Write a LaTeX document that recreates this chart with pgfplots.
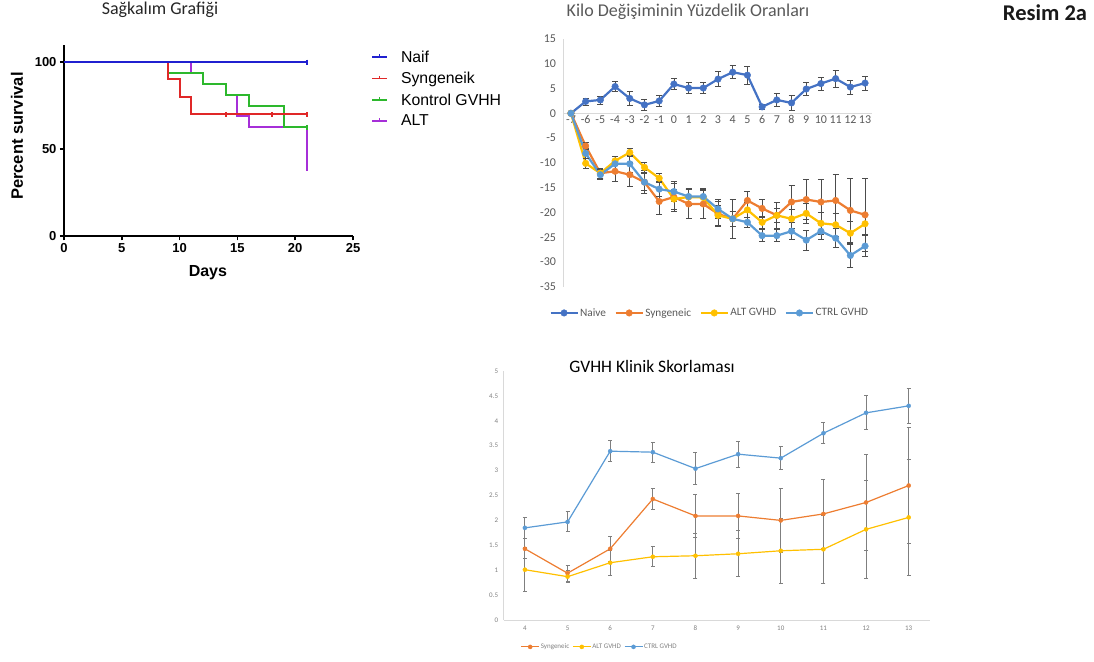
\documentclass[border=0pt]{standalone}
\usepackage{fontspec}
\setmainfont{Carlito}
\newfontfamily\arialfont{Liberation Sans}
\usepackage{pgfplots}
\pgfplotsset{compat=1.18}
\usepackage{pgfplotstable}

\definecolor{gpblue}{HTML}{2020D0}
\definecolor{gpred}{HTML}{E02828}
\definecolor{gpgreen}{HTML}{2DB82D}
\definecolor{gppurple}{HTML}{A62FD8}
\definecolor{xblue}{HTML}{4472C4}
\definecolor{xorange}{HTML}{ED7D31}
\definecolor{xgold}{HTML}{FFC000}
\definecolor{xlblue}{HTML}{5B9BD5}
\definecolor{txtgray}{HTML}{595959}
\definecolor{axgray}{HTML}{D9D9D9}
\definecolor{errgray}{HTML}{7F7F7F}

% Weight change (%) : x  y  e
\pgfplotstableread{
x y e
-7 0 0
-6 2.4 0.7
-5 2.7 0.8
-4 5.4 1.0
-3 3.0 1.4
-2 1.7 1.1
-1 2.5 1.1
0 5.9 1.1
1 5.1 1.1
2 5.1 1.1
3 6.9 1.5
4 8.3 1.3
5 7.7 1.8
6 1.3 0.6
7 2.7 1.3
8 2.1 1.6
9 4.9 1.3
10 6.0 1.3
11 7.0 1.7
12 5.3 1.4
13 6.1 1.4
}\wNaive
\pgfplotstableread{
x y e
-7 0 0
-6 -6.6 0.7
-5 -12.1 1.0
-4 -11.7 2.0
-3 -12.4 2.4
-2 -13.9 2.3
-1 -17.8 2.5
0 -16.9 2.8
1 -18.3 3.0
2 -18.3 3.0
3 -20.3 2.6
4 -21.3 4.0
5 -17.6 1.9
6 -19.2 1.9
7 -20.6 2.6
8 -17.9 3.4
9 -17.4 4.0
10 -17.9 4.5
11 -17.6 5.2
12 -19.6 6.4
13 -20.5 7.3
}\wSyn
\pgfplotstableread{
x y e
-7 0 0
-6 -10.1 1.0
-5 -12.1 1.0
-4 -9.6 1.0
-3 -7.9 0.8
-2 -10.9 1.0
-1 -13.1 0.9
0 -17.3 2.0
1 -16.9 1.5
2 -17.0 1.5
3 -20.6 2.0
4 -21.3 1.5
5 -19.5 1.5
6 -22.0 1.3
7 -20.6 1.5
8 -21.3 2.0
9 -20.2 2.0
10 -22.2 2.2
11 -22.5 2.3
12 -24.2 2.3
13 -22.3 2.2
}\wAlt
\pgfplotstableread{
x y e
-7 0 0
-6 -8.1 1.0
-5 -12.4 1.0
-4 -10.2 1.5
-3 -10.2 1.8
-2 -13.9 1.7
-1 -15.3 1.5
0 -15.8 2.0
1 -16.8 1.7
2 -16.8 1.7
3 -19.3 2.0
4 -21.3 1.5
5 -22.0 1.0
6 -24.7 1.2
7 -24.7 1.2
8 -23.8 1.7
9 -25.6 2.0
10 -23.8 1.7
11 -25.2 1.9
12 -28.7 2.4
13 -26.8 2.1
}\wCtrl

% Clinical score : x y e
\pgfplotstableread{
x y e
4 1.43 0.20
5 0.94 0.16
6 1.43 0.25
7 2.43 0.21
8 2.09 0.44
9 2.09 0.46
10 2.00 0.65
11 2.13 0.69
12 2.36 0.97
13 2.70 1.17
}\cSyn
\pgfplotstableread{
x y e
4 1.01 0.44
5 0.87 0.12
6 1.15 0.25
7 1.27 0.20
8 1.29 0.45
9 1.33 0.46
10 1.39 0.65
11 1.42 0.68
12 1.82 0.98
13 2.06 1.16
}\cAlt
\pgfplotstableread{
x y e
4 1.85 0.21
5 1.97 0.20
6 3.39 0.21
7 3.37 0.20
8 3.04 0.32
9 3.33 0.26
10 3.25 0.23
11 3.75 0.21
12 4.16 0.34
13 4.30 0.35
}\cCtrl

\pgfplotsset{
  wline/.style={line width=2.2pt, mark=*, mark size=3.3pt, mark options={solid, fill=#1, draw=#1, line width=0.4pt}, color=#1,
    error bars/.cd, y dir=both, y explicit,
    error bar style={line width=0.7pt, black!70},
    error mark options={rotate=90, mark size=3pt, line width=0.7pt, black!70}},
  cline/.style={line width=1.2pt, mark=*, mark size=2.1pt, mark options={solid, fill=#1, draw=#1, line width=0.3pt}, color=#1,
    error bars/.cd, y dir=both, y explicit,
    error bar style={line width=1.1pt, errgray},
    error mark options={rotate=90, mark size=2pt, line width=1pt, errgray}},
}

\begin{document}
\begin{tikzpicture}
\useasboundingbox (0pt,0pt) rectangle (1094pt,661pt);

% ---------------- Panel 1: survival ----------------
\begin{axis}[
  at={(64pt,424.7pt)}, anchor=south west, scale only axis,
  width=289pt, height=191.7pt,
  xmin=0, xmax=25, ymin=0, ymax=110,
  axis lines=left, axis line style={-, line width=2pt, black},
  xtick={0,5,10,15,20,25}, ytick={0,50,100},
  tick align=outside, major tick length=4pt, tick style={line width=1.6pt, black},
  /pgf/number format/assume math mode=true,
  ticklabel style={font=\arialfont\bfseries\fontsize{13}{15}\selectfont},
  xlabel={Days}, ylabel={Percent survival},
  xlabel style={font=\arialfont\bfseries\fontsize{16}{18}\selectfont, at={(axis description cs:0.498,-0.191)}, anchor=center},
  ylabel style={font=\arialfont\bfseries\fontsize{16.5}{18}\selectfont, at={(axis description cs:-0.163,0.523)}, anchor=center},
  legend style={draw=none, fill=none, at={(1.052,0.99)}, anchor=north west,
    font=\arialfont\fontsize{15.8}{18}\selectfont, row sep=4.5pt, nodes={inner sep=2pt}},
  legend cell align=left,
  legend image code/.code={\path[draw=none, fill=none] (0pt,0pt) -- (27pt,0pt); \draw[#1, line width=1.6pt] (0pt,0pt) -- (15pt,0pt); \draw[#1, line width=1.4pt] (7.5pt,0pt) -- (7.5pt,3pt);},
  clip=false,
]
\addlegendimage{gpblue}\addlegendentry{Naif}
\addlegendimage{gpred}\addlegendentry{Syngeneik}
\addlegendimage{gpgreen}\addlegendentry{Kontrol GVHH}
\addlegendimage{gppurple}\addlegendentry{ALT}
\addplot[gppurple, line width=2pt, const plot, forget plot] coordinates {(0,100)(11,93.75)(12,87.5)(14,81.25)(15,68.75)(16,62.5)(21,62.5)(21,37.5)};
\addplot[gpgreen, line width=2pt, const plot, forget plot] coordinates {(0,100)(9,93.75)(12,87.5)(14,81.25)(16,75)(19,62.5)(21,62.5)};
\addplot[gpgreen, only marks, mark=|, mark size=2.5pt, line width=1.5pt, forget plot] coordinates {(21,62.5)};
\addplot[gpred, line width=2pt, const plot, forget plot] coordinates {(0,100)(9,90)(10,80)(11,70)(21,70)};
\addplot[gpred, only marks, mark=|, mark size=2.5pt, line width=1.5pt, forget plot] coordinates {(14,70)(18,70)(21,70)};
\addplot[gpblue, line width=2pt, forget plot] coordinates {(0,100)(21,100)};
\addplot[gpblue, only marks, mark=|, mark size=2.5pt, line width=1.5pt, forget plot] coordinates {(21,100)};
\end{axis}

% ---------------- Panel 2: weight change ----------------
\begin{axis}[
  at={(563.6pt,374.3pt)}, anchor=south west, scale only axis,
  width=308.8pt, height=247.7pt,
  xmin=-7.5, xmax=13.5, ymin=-35, ymax=15,
  axis y line=left, axis x line=middle, axis line style={-, axgray, line width=0.9pt},
  hide obscured x ticks=false, hide obscured y ticks=false,
  xtick={-7,...,13}, ytick={-35,-30,...,15},
  major tick length=0pt,
  /pgf/number format/assume math mode=true,
  ticklabel style={font=\fontsize{12}{14}\selectfont, text=txtgray},
  yticklabel style={xshift=-4pt},
  xticklabel style={yshift=-6pt, anchor=center, text height=8pt, text depth=0pt},
  clip=false,
  legend columns=4,
  legend style={draw=none, fill=none, at={(0.4725,-0.106)}, anchor=center,
    font=\fontsize{11.3}{13}\selectfont, text=txtgray,
    nodes={inner sep=1.5pt},
    /tikz/every even column/.append style={column sep=7pt}},
  legend image code/.code={\draw[#1, mark repeat=2, mark phase=2] plot coordinates {(0pt,0pt)(13.5pt,0pt)(27pt,0pt)};},
]
\addplot[wline=xblue] table[x=x, y=y, y error=e] {\wNaive};
\addlegendentry{Naive}
\addplot[wline=xorange] table[x=x, y=y, y error=e] {\wSyn};
\addlegendentry{Syngeneic}
\addplot[wline=xgold] table[x=x, y=y, y error=e] {\wAlt};
\addlegendentry{ALT GVHD}
\addplot[wline=xlblue] table[x=x, y=y, y error=e] {\wCtrl};
\addlegendentry{CTRL GVHD}
\end{axis}

% ---------------- Panel 3: clinical score ----------------
\begin{axis}[
  at={(503.6pt,41pt)}, anchor=south west, scale only axis,
  width=426.4pt, height=249pt,
  xmin=3.5, xmax=13.5, ymin=0, ymax=5,
  axis x line=bottom, axis y line=left, axis line style={-, axgray, line width=0.9pt},
  xtick={4,...,13}, ytick={0,0.5,...,5},
  major tick length=0pt,
  /pgf/number format/assume math mode=true,
  ticklabel style={font=\fontsize{7}{8}\selectfont, text=errgray},
  yticklabel style={xshift=-2pt},
  xticklabel style={yshift=-2pt},
  clip=false,
  legend columns=3,
  legend style={draw=none, fill=none, at={(0.224,-0.108)}, anchor=center,
    font=\fontsize{7}{8}\selectfont, text=errgray,
    /tikz/every even column/.append style={column sep=2pt}, nodes={inner sep=1pt}},
  legend image code/.code={\draw[#1, mark repeat=2, mark phase=2] plot coordinates {(0pt,0pt)(9pt,0pt)(18pt,0pt)};},
]
\addplot[cline=xorange] table[x=x, y=y, y error=e] {\cSyn};
\addlegendentry{Syngeneic}
\addplot[cline=xgold] table[x=x, y=y, y error=e] {\cAlt};
\addlegendentry{ALT GVHD}
\addplot[cline=xlblue] table[x=x, y=y, y error=e] {\cCtrl};
\addlegendentry{CTRL GVHD}
\end{axis}

% ---------------- Titles ----------------
\node[font=\fontsize{18}{20}\selectfont, text=black!85] at (160pt,651pt) {Sağkalım Grafiği};
\node[font=\fontsize{18}{20}\selectfont, text=txtgray] at (688pt,649pt) {Kilo Değişiminin Yüzdelik Oranları};
\node[font=\fontsize{17.5}{20}\selectfont, text=black] at (652pt,295pt) {GVHH Klinik Skorlaması};
\node[font=\bfseries\fontsize{22.5}{24}\selectfont, text=black!90] at (1045pt,648pt) {Resim 2a};
\end{tikzpicture}
\end{document}
